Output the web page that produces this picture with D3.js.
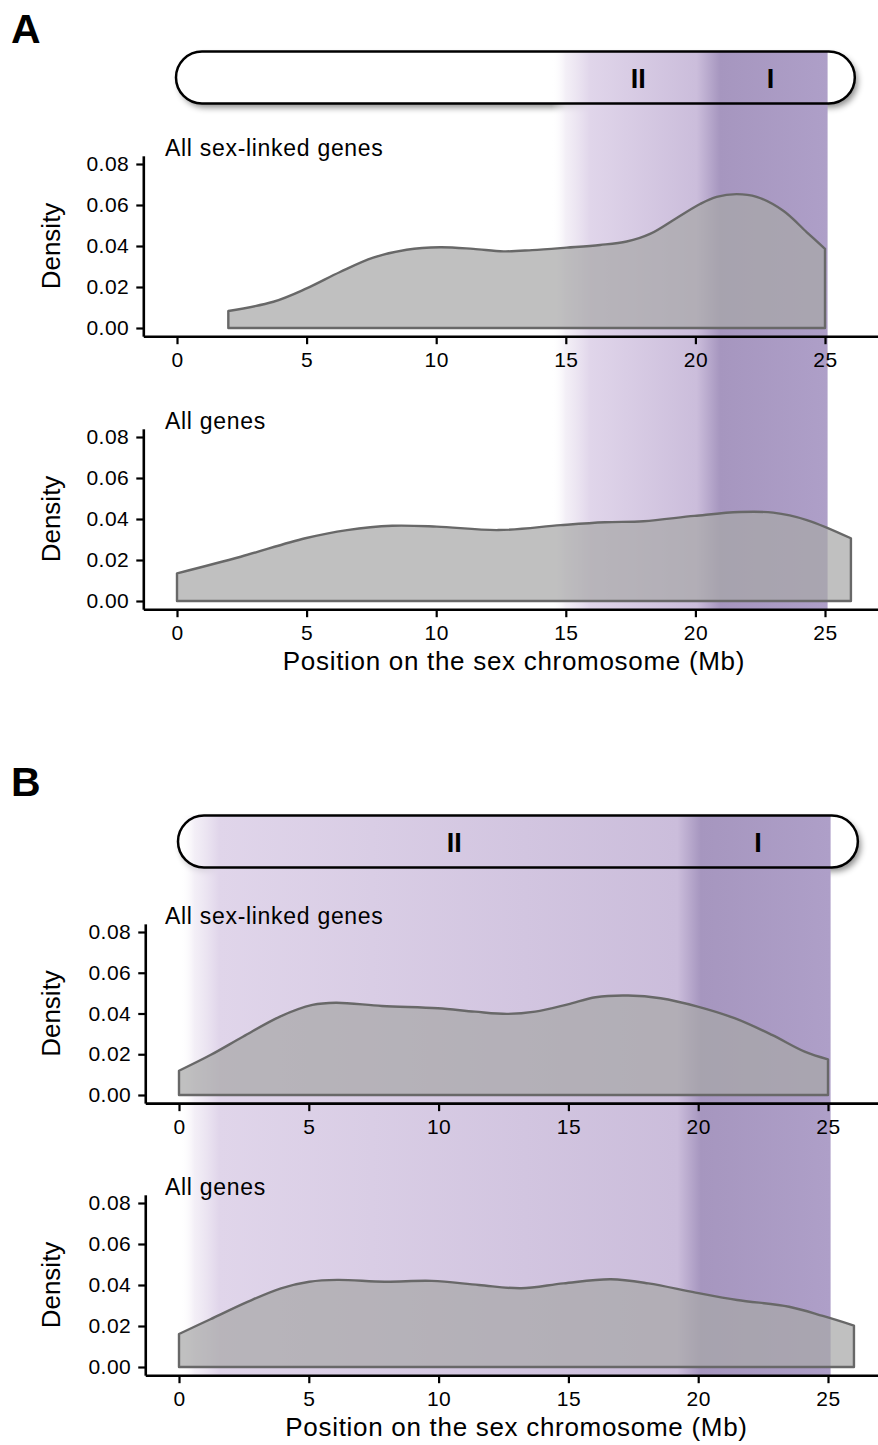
<!DOCTYPE html>
<html>
<head>
<meta charset="utf-8">
<script src="https://cdn.jsdelivr.net/npm/d3@7"></script>
<style>
    body { margin: 0; background: #fff; }
    text { font-family: "Liberation Sans", Arial, Helvetica, sans-serif; fill: #000; }
</style>
</head>
<body>
<div id="chart"></div>
<script>
// density of gene positions along the sex chromosome (Mb)
var posA1 = [1.98, 3.72, 5.0, 6.29, 7.57, 8.86, 10.15, 11.43, 12.6, 13.7, 15.03, 16.32, 17.35, 18.25, 19.28, 20.18, 20.82, 21.59, 22.36, 23.39, 24.3, 25.0];
var densA1 = [0.0083, 0.0128, 0.0193, 0.0273, 0.0343, 0.0382, 0.0394, 0.0386, 0.0374, 0.0380, 0.0392, 0.0405, 0.0422, 0.0459, 0.0537, 0.0605, 0.0640, 0.0653, 0.0640, 0.0572, 0.0467, 0.0386];

var posA2 = [0, 2.46, 4.95, 6.56, 8.3, 10.02, 12.4, 14.8, 16.5, 18.0, 19.96, 21.7, 23.0, 24.3, 26.0];
var densA2 = [0.0135, 0.0216, 0.0306, 0.0346, 0.0367, 0.0363, 0.0346, 0.0370, 0.0384, 0.0389, 0.0415, 0.0434, 0.0431, 0.0395, 0.0306];

var posB1 = [0, 1.21, 2.46, 3.89, 5.14, 6.04, 7.82, 9.97, 11.4, 12.65, 13.72, 14.98, 16.05, 17.3, 18.55, 19.98, 21.4, 22.84, 24.1, 25.0];
var densB1 = [0.0119, 0.0196, 0.0286, 0.0385, 0.0442, 0.0453, 0.0437, 0.0426, 0.0409, 0.0398, 0.0409, 0.0445, 0.0480, 0.0488, 0.0475, 0.0434, 0.0377, 0.0295, 0.0213, 0.0175];

var posB2 = [0, 1.21, 2.66, 3.93, 5.02, 6.1, 7.92, 9.74, 11.55, 13.18, 14.81, 16.63, 18.08, 19.9, 21.5, 23.5, 24.8, 26.0];
var densB2 = [0.0161, 0.0233, 0.0319, 0.0384, 0.0416, 0.0425, 0.0416, 0.0420, 0.0400, 0.0384, 0.0408, 0.0428, 0.0408, 0.0363, 0.0327, 0.0294, 0.0249, 0.0202];

// evolutionary strata (Mb)
var strataLabels = ["II", "I"];
var strataStartA = [15.2, 20.5];
var strataLabelAtA = [17.8, 22.9];
var strataStartB = [0.8, 19.65];
var strataLabelAtB = [10.6, 22.3];
var strataEnd = 25.1;
var chromLength = 26.15;

var plotTitles = ["All sex-linked genes", "All genes"];
var xTicks = [0, 5, 10, 15, 20, 25];
var yTicks = [0, 0.02, 0.04, 0.06, 0.08];

var width = 878, height = 1445;

var panels = [
    { letter: "A", letterY: 43, chromTop: 51.5, x0: 177, x25: 825,
      strataStart: strataStartA, labelAt: strataLabelAtA,
      plots: [{ pos: posA1, dens: densA1, y0: 328, y8: 164 },
              { pos: posA2, dens: densA2, y0: 601, y8: 437 }] },
    { letter: "B", letterY: 796, chromTop: 815.5, x0: 179, x25: 828,
      strataStart: strataStartB, labelAt: strataLabelAtB,
      plots: [{ pos: posB1, dens: densB1, y0: 1095, y8: 932 },
              { pos: posB2, dens: densB2, y0: 1367, y8: 1203 }] }
];

var svg = d3.select("#chart")
    .append("svg")
    .attr("width", width)
    .attr("height", height);

var defs = svg.append("defs");

var shadow = defs.append("filter")
    .attr("id", "chromShadow")
    .attr("x", "-5%").attr("y", "-30%")
    .attr("width", "110%").attr("height", "180%");
shadow.append("feDropShadow")
    .attr("dx", 3).attr("dy", 4)
    .attr("stdDeviation", 3)
    .attr("flood-color", "#000")
    .attr("flood-opacity", 0.45);

var chromH = 52;

panels.forEach(function(p, pi) {
    var k = (p.x25 - p.x0) / 25;
    var x = d3.scaleLinear()
        .domain([-1.3, 27.3])
        .range([p.x0 - 1.3 * k, p.x0 + 27.3 * k]);

    var g = svg.append("g");

    g.append("text")
        .attr("x", 11)
        .attr("y", p.letterY)
        .attr("font-size", 41)
        .attr("font-weight", "bold")
        .text(p.letter);

    // chromosome body
    g.append("rect")
        .attr("x", x(0) - 1)
        .attr("y", p.chromTop)
        .attr("width", x(chromLength) - x(0) + 1)
        .attr("height", chromH)
        .attr("rx", chromH / 2)
        .attr("fill", "#fff")
        .attr("filter", "url(#chromShadow)");

    // strata band, fading in at the start of stratum II
    var s0 = p.strataStart[0], s1 = p.strataStart[1];
    var gStart = s0 - 0.75;
    var grad = defs.append("linearGradient")
        .attr("id", "strata" + pi)
        .attr("gradientUnits", "userSpaceOnUse")
        .attr("x1", x(gStart)).attr("x2", x(strataEnd))
        .attr("y1", 0).attr("y2", 0);
    var off = d3.scaleLinear().domain([gStart, strataEnd]).range([0, 1]);
    [
        [gStart, "#ffffff", 0],
        [s0 - 0.2, "#eee8f3", 0.7],
        [s0 + 0.75, "#e0d5ea", 1],
        [s1 - 0.45, "#cbbddb", 1],
        [s1 + 0.45, "#a696bf", 1],
        [strataEnd, "#ae9fc8", 1]
    ].forEach(function(s) {
        grad.append("stop")
            .attr("offset", off(s[0]))
            .attr("stop-color", s[1])
            .attr("stop-opacity", s[2]);
    });

    var lastPlot = p.plots[p.plots.length - 1];
    var bandBottom = d3.scaleLinear().domain([0, 0.08]).range([lastPlot.y0, lastPlot.y8])(-0.004) + 1;

    g.append("rect")
        .attr("x", x(gStart))
        .attr("y", p.chromTop)
        .attr("width", x(strataEnd) - x(gStart))
        .attr("height", bandBottom - p.chromTop)
        .attr("fill", "url(#strata" + pi + ")");

    g.append("rect")
        .attr("x", x(0) - 1)
        .attr("y", p.chromTop)
        .attr("width", x(chromLength) - x(0) + 1)
        .attr("height", chromH)
        .attr("rx", chromH / 2)
        .attr("fill", "none")
        .attr("stroke", "#000")
        .attr("stroke-width", 2.5);

    g.selectAll(".stratum-label")
        .data(strataLabels)
        .enter().append("text")
        .attr("class", "stratum-label")
        .attr("x", (d, i) => x(p.labelAt[i]))
        .attr("y", p.chromTop + chromH / 2 + 10)
        .attr("text-anchor", "middle")
        .attr("font-size", 27)
        .attr("font-weight", "bold")
        .text(d => d);

    p.plots.forEach(function(pl, j) {
        var y = d3.scaleLinear()
            .domain([-0.004, 0.084])
            .range([pl.y0 + 0.004 / 0.08 * (pl.y0 - pl.y8), pl.y8 - 0.004 / 0.08 * (pl.y0 - pl.y8)]);

        var pts = pl.pos.map((d, i) => [d, pl.dens[i]]);
        var area = d3.area()
            .x(d => x(d[0]))
            .y0(y(0))
            .y1(d => y(d[1]))
            .curve(d3.curveCatmullRom.alpha(0.5));

        g.append("path")
            .datum(pts)
            .attr("d", area)
            .attr("fill", "#a8a8a8")
            .attr("fill-opacity", 0.72)
            .attr("stroke", "#686868")
            .attr("stroke-width", 2.4)
            .attr("stroke-linejoin", "round");

        var xAxis = g.append("g")
            .attr("transform", "translate(0," + y(-0.004) + ")")
            .call(d3.axisBottom(x).tickValues(xTicks).tickSize(8).tickSizeOuter(0).tickPadding(8));
        var yAxis = g.append("g")
            .attr("transform", "translate(" + x(-1.3) + ",0)")
            .call(d3.axisLeft(y).tickValues(yTicks).tickFormat(d3.format(".2f")).tickSize(7).tickSizeOuter(0).tickPadding(7));

        [xAxis, yAxis].forEach(function(a) {
            a.select(".domain").attr("stroke", "#000").attr("stroke-width", 2.6);
            a.selectAll(".tick line").attr("stroke", "#000").attr("stroke-width", 2.2);
            a.selectAll(".tick text")
                .attr("font-size", 21)
                .attr("letter-spacing", 0.5)
                .attr("fill", "#000")
                .style("font-family", "'Liberation Sans', Arial, sans-serif");
        });

        g.append("text")
            .attr("x", 165)
            .attr("y", pl.y8 - 8.5)
            .attr("font-size", 23)
            .attr("letter-spacing", 0.7)
            .text(plotTitles[j]);

        g.append("text")
            .attr("transform", "translate(60," + (pl.y0 + pl.y8) / 2 + ") rotate(-90)")
            .attr("text-anchor", "middle")
            .attr("font-size", 26)
            .text("Density");

        if (j === p.plots.length - 1) {
            g.append("text")
                .attr("x", (x.range()[0] + x.range()[1]) / 2)
                .attr("y", y(-0.004) + 61)
                .attr("text-anchor", "middle")
                .attr("font-size", 26)
                .attr("letter-spacing", 0.7)
                .text("Position on the sex chromosome (Mb)");
        }
    });
});
</script>
</body>
</html>
